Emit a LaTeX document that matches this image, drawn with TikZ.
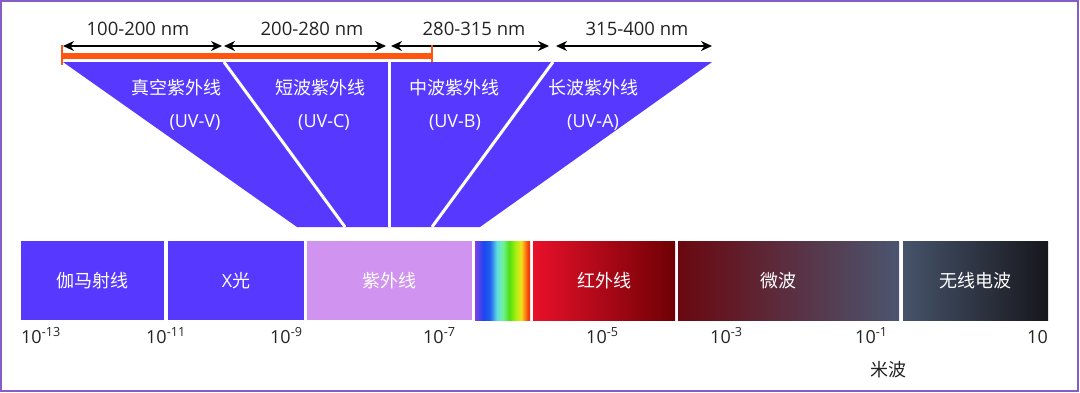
\documentclass[tikz,border=0pt]{standalone}
\usepackage{fontspec}
\setmainfont{Open Sans}
\newfontfamily\cjk{Noto Sans CJK SC}
\usepackage{tikz}
\usetikzlibrary{arrows.meta}

\definecolor{uvblue}{RGB}{87,56,255}
\definecolor{uvlight}{RGB}{208,148,240}
\definecolor{rangebar}{RGB}{255,85,15}
\definecolor{framepurple}{RGB}{134,92,200}
\definecolor{labelgray}{RGB}{35,35,35}
\definecolor{irleft}{RGB}{232,16,42}
\definecolor{irright}{RGB}{110,0,4}
\definecolor{mwleft}{RGB}{106,8,16}
\definecolor{mwright}{RGB}{75,85,112}
\definecolor{rdleft}{RGB}{70,83,106}
\definecolor{rdright}{RGB}{23,23,29}
\definecolor{sp0}{RGB}{128,64,232}
\definecolor{sp1}{RGB}{28,70,240}
\definecolor{sp2}{RGB}{32,96,240}
\definecolor{sp3}{RGB}{96,224,224}
\definecolor{sp4}{RGB}{112,240,150}
\definecolor{sp5}{RGB}{80,224,16}
\definecolor{sp6}{RGB}{176,240,16}
\definecolor{sp7}{RGB}{240,224,32}
\definecolor{sp8}{RGB}{255,128,16}
\definecolor{sp9}{RGB}{240,48,16}

\pgfdeclarehorizontalshading{spectrum}{100bp}{color(0bp)=(sp0); color(25bp)=(sp0);
  color(33bp)=(sp1); color(38.6bp)=(sp2); color(45bp)=(sp3); color(50.5bp)=(sp4);
  color(56bp)=(sp5); color(62.5bp)=(sp6); color(67bp)=(sp7); color(70.5bp)=(sp8);
  color(74bp)=(sp9); color(100bp)=(sp9)}

\tikzset{band/.style={minimum height=79pt, inner sep=0pt, text=white, font=\cjk\fontsize{18}{20}\selectfont},
  uvtext/.style={text=white, inner sep=0pt, font=\cjk\fontsize{18}{20}\selectfont},
  uvcode/.style={text=white, inner sep=0pt, font=\fontsize{18}{20}\selectfont},
  rangetext/.style={text=labelgray, inner sep=0pt, font=\fontsize{18.5}{20}\selectfont},
  tick/.style={anchor=base west, inner sep=0pt, text=labelgray, font=\fontsize{18}{20}\selectfont},
  dimarrow/.style={draw=black, line width=1.6pt, {Stealth[length=11pt,width=10pt,inset=3.5pt]}-{Stealth[length=11pt,width=10pt,inset=3.5pt]}},
  divider/.style={draw=white, line width=3pt}}

\begin{document}
\begin{tikzpicture}[x=1pt,y=-1pt]
    \useasboundingbox (0,0) rectangle (1080,392);
    \draw[framepurple, line width=2pt] (1,1) rectangle (1078,391);

    % wavelength ranges
    \coordinate (a1l) at (63,46);  \coordinate (a1r) at (222,46);
    \coordinate (a2l) at (224,46); \coordinate (a2r) at (386,46);
    \coordinate (a3l) at (391,46); \coordinate (a3r) at (549,46);
    \coordinate (a4l) at (556,46); \coordinate (a4r) at (712,46);
    \draw (a1l) edge[dimarrow] (a1r);
    \draw (a2l) edge[dimarrow] (a2r);
    \draw (a3l) edge[dimarrow] (a3r);
    \draw (a4l) edge[dimarrow] (a4r);
    \node[rangetext] at (138, 29) (r1) {100-200 nm};
    \node[rangetext] at (312, 29) (r2) {200-280 nm};
    \node[rangetext] at (474, 29) (r3) {280-315 nm};
    \node[rangetext] at (637, 29) (r4) {315-400 nm};

    % orange bracket
    \coordinate (ol) at (62,56); \coordinate (or) at (432,56);
    \draw[rangebar, line width=5.5pt] (ol) -- (or);
    \draw[rangebar, line width=2.5pt] ([yshift=-9pt]ol) -- ([yshift=11pt]ol);
    \draw[rangebar, line width=2.5pt] ([yshift=-9pt]or) -- ([yshift=11pt]or);

    % UV funnel
    \coordinate (tl) at (63,62);  \coordinate (tr) at (712,62);
    \coordinate (br) at (480,227); \coordinate (bl) at (297,227);
    \fill[uvblue] (tl) -- (tr) -- (br) -- (bl) -- cycle;
    \coordinate (d1t) at (224,62); \coordinate (d1b) at (345,227);
    \coordinate (d2t) at (389,62); \coordinate (d2b) at (389,227);
    \coordinate (d3t) at (553,62); \coordinate (d3b) at (432,227);
    \draw[divider] (d1t) -- (d1b);
    \draw[divider] (d2t) -- (d2b);
    \draw[divider] (d3t) -- (d3b);

    \node[uvtext] at (176, 88) (uvv) {真空紫外线};
    \node[uvcode] at (195,122) (uvvs) {(UV-V)};
    \node[uvtext] at (320, 88) (uvc) {短波紫外线};
    \node[uvcode] at (324,122) (uvcs) {(UV-C)};
    \node[uvtext] at (454, 88) (uvb) {中波紫外线};
    \node[uvcode] at (455,122) (uvbs) {(UV-B)};
    \node[uvtext] at (593, 88) (uva) {长波紫外线};
    \node[uvcode] at (593,122) (uvas) {(UV-A)};

    % spectrum bands
    \node[band, fill=uvblue, minimum width=143pt] at (92.5,280.5) (gamma) {伽马射线};
    \node[band, fill=uvblue, minimum width=136pt] at (236,280.5) (xray) {{\fontspec{Open Sans}X}光};
    \node[band, fill=uvlight, minimum width=165pt] at (389.5,280.5) (uv) {紫外线};
    \node[band, shading=spectrum, minimum width=55pt] at (502.5,280.5) (vis) {};
    \node[band, left color=irleft, right color=irright, minimum width=142pt] at (604,280.5) (ir) {红外线};
    \node[band, left color=mwleft, right color=mwright, minimum width=221pt] at (788.5,280.5) (mw) {};
    \node[uvtext] at (778,280.5) (mwt) {微波};
    \node[band, left color=rdleft, right color=rdright, minimum width=145pt] at (975.5,280.5) (radio) {无线电波};

    % scale
    \node[tick] at (21,343)  (t13) {10\textsuperscript{-13}};
    \node[tick] at (146,343) (t11) {10\textsuperscript{-11}};
    \node[tick] at (270,343) (t9)  {10\textsuperscript{-9}};
    \node[tick] at (423,343) (t7)  {10\textsuperscript{-7}};
    \node[tick] at (586,343) (t5)  {10\textsuperscript{-5}};
    \node[tick] at (710,343) (t3)  {10\textsuperscript{-3}};
    \node[tick] at (855,343) (t1)  {10\textsuperscript{-1}};
    \node[tick, anchor=base east] at (1048,343) (t0) {10};
    \node[text=labelgray, font=\cjk\fontsize{18}{20}\selectfont] at (888,370) (mi) {米波};
  \end{tikzpicture}
\end{document}
